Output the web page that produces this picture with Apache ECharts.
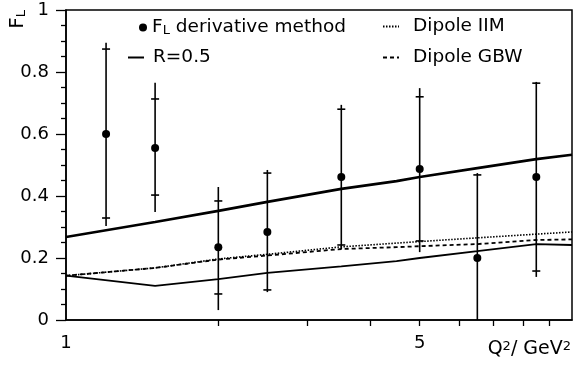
<!DOCTYPE html>
<html>
<head>
<meta charset="utf-8">
<script src="https://cdn.jsdelivr.net/npm/echarts@6/dist/echarts.min.js"></script>
<style>
html,body{margin:0;padding:0;background:#fff;}
#chart{width:574px;height:367px;}
</style>
</head>
<body>
<div id="chart"></div>
<script>
// ---- data ----
const pointQ2   = [1.2, 1.5, 2.0, 2.5, 3.5, 5.0, 6.5, 8.5];
const pointFL   = [0.600, 0.555, 0.235, 0.284, 0.461, 0.487, 0.200, 0.461];
const statLow   = [0.329, 0.403, 0.084, 0.097, 0.242, 0.255, -0.03, 0.158];
const statHigh  = [0.874, 0.713, 0.384, 0.474, 0.680, 0.720, 0.468, 0.764];
const totLow    = [0.303, 0.348, 0.032, 0.090, 0.229, 0.219, -0.07, 0.139];
const totHigh   = [0.894, 0.765, 0.429, 0.484, 0.694, 0.748, 0.474, 0.768];

const curveQ2   = [1.0, 1.5, 2.0, 2.5, 3.5, 4.5, 5.0, 6.5, 8.5, 10.0];
const r05Upper  = [0.268, 0.316, 0.352, 0.381, 0.423, 0.448, 0.461, 0.490, 0.519, 0.533];
const r05Lower  = [0.143, 0.110, 0.132, 0.152, 0.173, 0.190, 0.200, 0.222, 0.245, 0.242];
const dipoleIIM = [0.143, 0.168, 0.197, 0.212, 0.236, 0.248, 0.253, 0.265, 0.277, 0.284];
const dipoleGBW = [0.143, 0.168, 0.195, 0.208, 0.229, 0.235, 0.238, 0.245, 0.258, 0.260];

const xTickValues  = [2, 3, 4, 5, 6, 7, 8, 9];
const xLabelValues = [1, 5];
const yTicks = {min: 0, max: 1, interval: 0.2};

const names = {
  data: 'FL derivative method',
  r05: 'R=0.5',
  iim: 'Dipole IIM',
  gbw: 'Dipole GBW'
};
// -----------------------------------------

const FONT = 'DejaVu Sans';
const LFS = 18.5;
const richTxt = {
  a:   {fontFamily: FONT, fontSize: LFS, lineHeight: 19, color: '#000', verticalAlign: 'top'},
  sub: {fontFamily: FONT, fontSize: 13, lineHeight: 13, color: '#000', verticalAlign: 'bottom', padding: [8, 0, 0, 0]}
};
const richSup = {
  a:   {fontFamily: FONT, fontSize: 19, lineHeight: 19, color: '#000', verticalAlign: 'bottom'},
  sup: {fontFamily: FONT, fontSize: 13, lineHeight: 13, color: '#000', verticalAlign: 'top', padding: [0, 0, 8, 0]}
};

function zip(xs, ys) { return xs.map((x, i) => [x, ys[i]]); }

const errData = pointQ2.map((q, i) => [q, pointFL[i], statLow[i], statHigh[i], totLow[i], totHigh[i]]);

function renderErr(params, api) {
  const x = api.value(0);
  const p   = api.coord([x, api.value(1)]);
  const psl = api.coord([x, api.value(2)]);
  const psh = api.coord([x, api.value(3)]);
  const ptl = api.coord([x, api.value(4)]);
  const pth = api.coord([x, api.value(5)]);
  const st = {stroke: '#000', lineWidth: 1.6};
  const hw = 4;
  return {
    type: 'group',
    children: [
      {type: 'line', shape: {x1: ptl[0], y1: ptl[1], x2: pth[0], y2: pth[1]}, style: st},
      {type: 'line', shape: {x1: psl[0] - hw, y1: psl[1], x2: psl[0] + hw, y2: psl[1]}, style: st},
      {type: 'line', shape: {x1: psh[0] - hw, y1: psh[1], x2: psh[0] + hw, y2: psh[1]}, style: st},
      {type: 'circle', shape: {cx: p[0], cy: p[1], r: 4}, style: {fill: '#000'}}
    ]
  };
}

const legendBase = {
  orient: 'vertical',
  padding: 0,
  itemGap: 12,
  textStyle: {fontFamily: FONT, fontSize: LFS, color: '#000', rich: richTxt},
  inactiveColor: '#000',
  selectedMode: false
};
const lineLegendItemStyle = {color: 'rgba(0,0,0,0)', borderWidth: 0, opacity: 0};

const option = {
  animation: false,
  backgroundColor: '#fff',
  grid: {left: 66, right: 1, top: 10, bottom: 47, show: true, borderColor: '#000', borderWidth: 1.5, backgroundColor: 'transparent'},
  legend: [
    Object.assign({}, legendBase, {
      left: 139, top: 16, itemWidth: 8, itemHeight: 8,
      data: [{name: names.data, icon: 'circle'}],
      formatter: () => '{a|F}{sub|L}{a| derivative method}'
    }),
    Object.assign({}, legendBase, {
      left: 127, top: 48, itemWidth: 16, itemHeight: 2,
      itemStyle: lineLegendItemStyle,
      data: [names.r05],
      formatter: n => '{a|' + n + '}',
      textStyle: Object.assign({}, legendBase.textStyle, {padding: [0, 0, 0, 4]})
    }),
    Object.assign({}, legendBase, {
      left: 382, top: 17, itemWidth: 16, itemHeight: 2,
      itemStyle: lineLegendItemStyle,
      data: [names.iim, names.gbw],
      formatter: n => '{a|' + n + '}',
      textStyle: Object.assign({}, legendBase.textStyle, {padding: [0, 0, 0, 9]})
    })
  ],
  xAxis: {
    type: 'log', logBase: 10, min: 1, max: 10,
    name: '{a|Q}{sup|2}{a|/ GeV}{sup|2}',
    nameLocation: 'end', nameGap: -1,
    nameTextStyle: {align: 'right', verticalAlign: 'top', padding: [20, 0, 0, 0], rich: richSup},
    axisLine: {show: true, onZero: false, lineStyle: {color: '#000', width: 1.5}},
    axisTick: {show: true, inside: false, length: 6, lineStyle: {color: '#000', width: 1.3}, customValues: xTickValues},
    minorTick: {show: false},
    axisLabel: {customValues: xLabelValues, formatter: v => String(Math.round(v)), fontFamily: FONT, fontSize: 18, color: '#000', margin: 14},
    splitLine: {show: false}
  },
  yAxis: {
    type: 'value', min: yTicks.min, max: yTicks.max, interval: yTicks.interval,
    axisLine: {show: true, lineStyle: {color: '#000', width: 1.5}},
    axisTick: {show: true, inside: false, length: 10, lineStyle: {color: '#000', width: 1.3}},
    minorTick: {show: true, splitNumber: 4, length: 5, lineStyle: {color: '#000', width: 1.3}},
    axisLabel: {fontFamily: FONT, fontSize: 18, color: '#000', margin: 17, formatter: v => String(+v.toFixed(1))},
    splitLine: {show: false}
  },
  graphic: [{
    type: 'text', x: 18, y: 10, rotation: Math.PI / 2,
    style: {text: '{a|F}{sub|L}', rich: {
      a:   {fontFamily: FONT, fontSize: 20, lineHeight: 20, fill: '#000', verticalAlign: 'top'},
      sub: {fontFamily: FONT, fontSize: 13, lineHeight: 13, fill: '#000', verticalAlign: 'bottom', padding: [9, 0, 0, 0]}
    }, align: 'right', verticalAlign: 'middle'}
  }],
  series: [
    {name: names.r05, type: 'line', data: zip(curveQ2, r05Upper), symbol: 'none', smooth: false,
     lineStyle: {color: '#000', width: 2.6}, itemStyle: {color: '#000'}, z: 3},
    {name: 'R05 lower', type: 'line', data: zip(curveQ2, r05Lower), symbol: 'none',
     lineStyle: {color: '#000', width: 1.8}, itemStyle: {color: '#000'}, z: 3},
    {name: names.iim, type: 'line', data: zip(curveQ2, dipoleIIM), symbol: 'none',
     lineStyle: {color: '#000', width: 1.6, type: [1.5, 1.5]}, itemStyle: {color: '#000'}, z: 3},
    {name: names.gbw, type: 'line', data: zip(curveQ2, dipoleGBW), symbol: 'none',
     lineStyle: {color: '#000', width: 1.8, type: [4, 3]}, itemStyle: {color: '#000'}, z: 3},
    {name: names.data, type: 'custom', data: errData, renderItem: renderErr, clip: true,
     itemStyle: {color: '#000'}, encode: {x: 0, y: [1, 2, 3, 4, 5]}, z: 4}
  ]
};

const chart = echarts.init(document.getElementById('chart'), null, {renderer: 'canvas'});
chart.setOption(option);
</script>
</body>
</html>
